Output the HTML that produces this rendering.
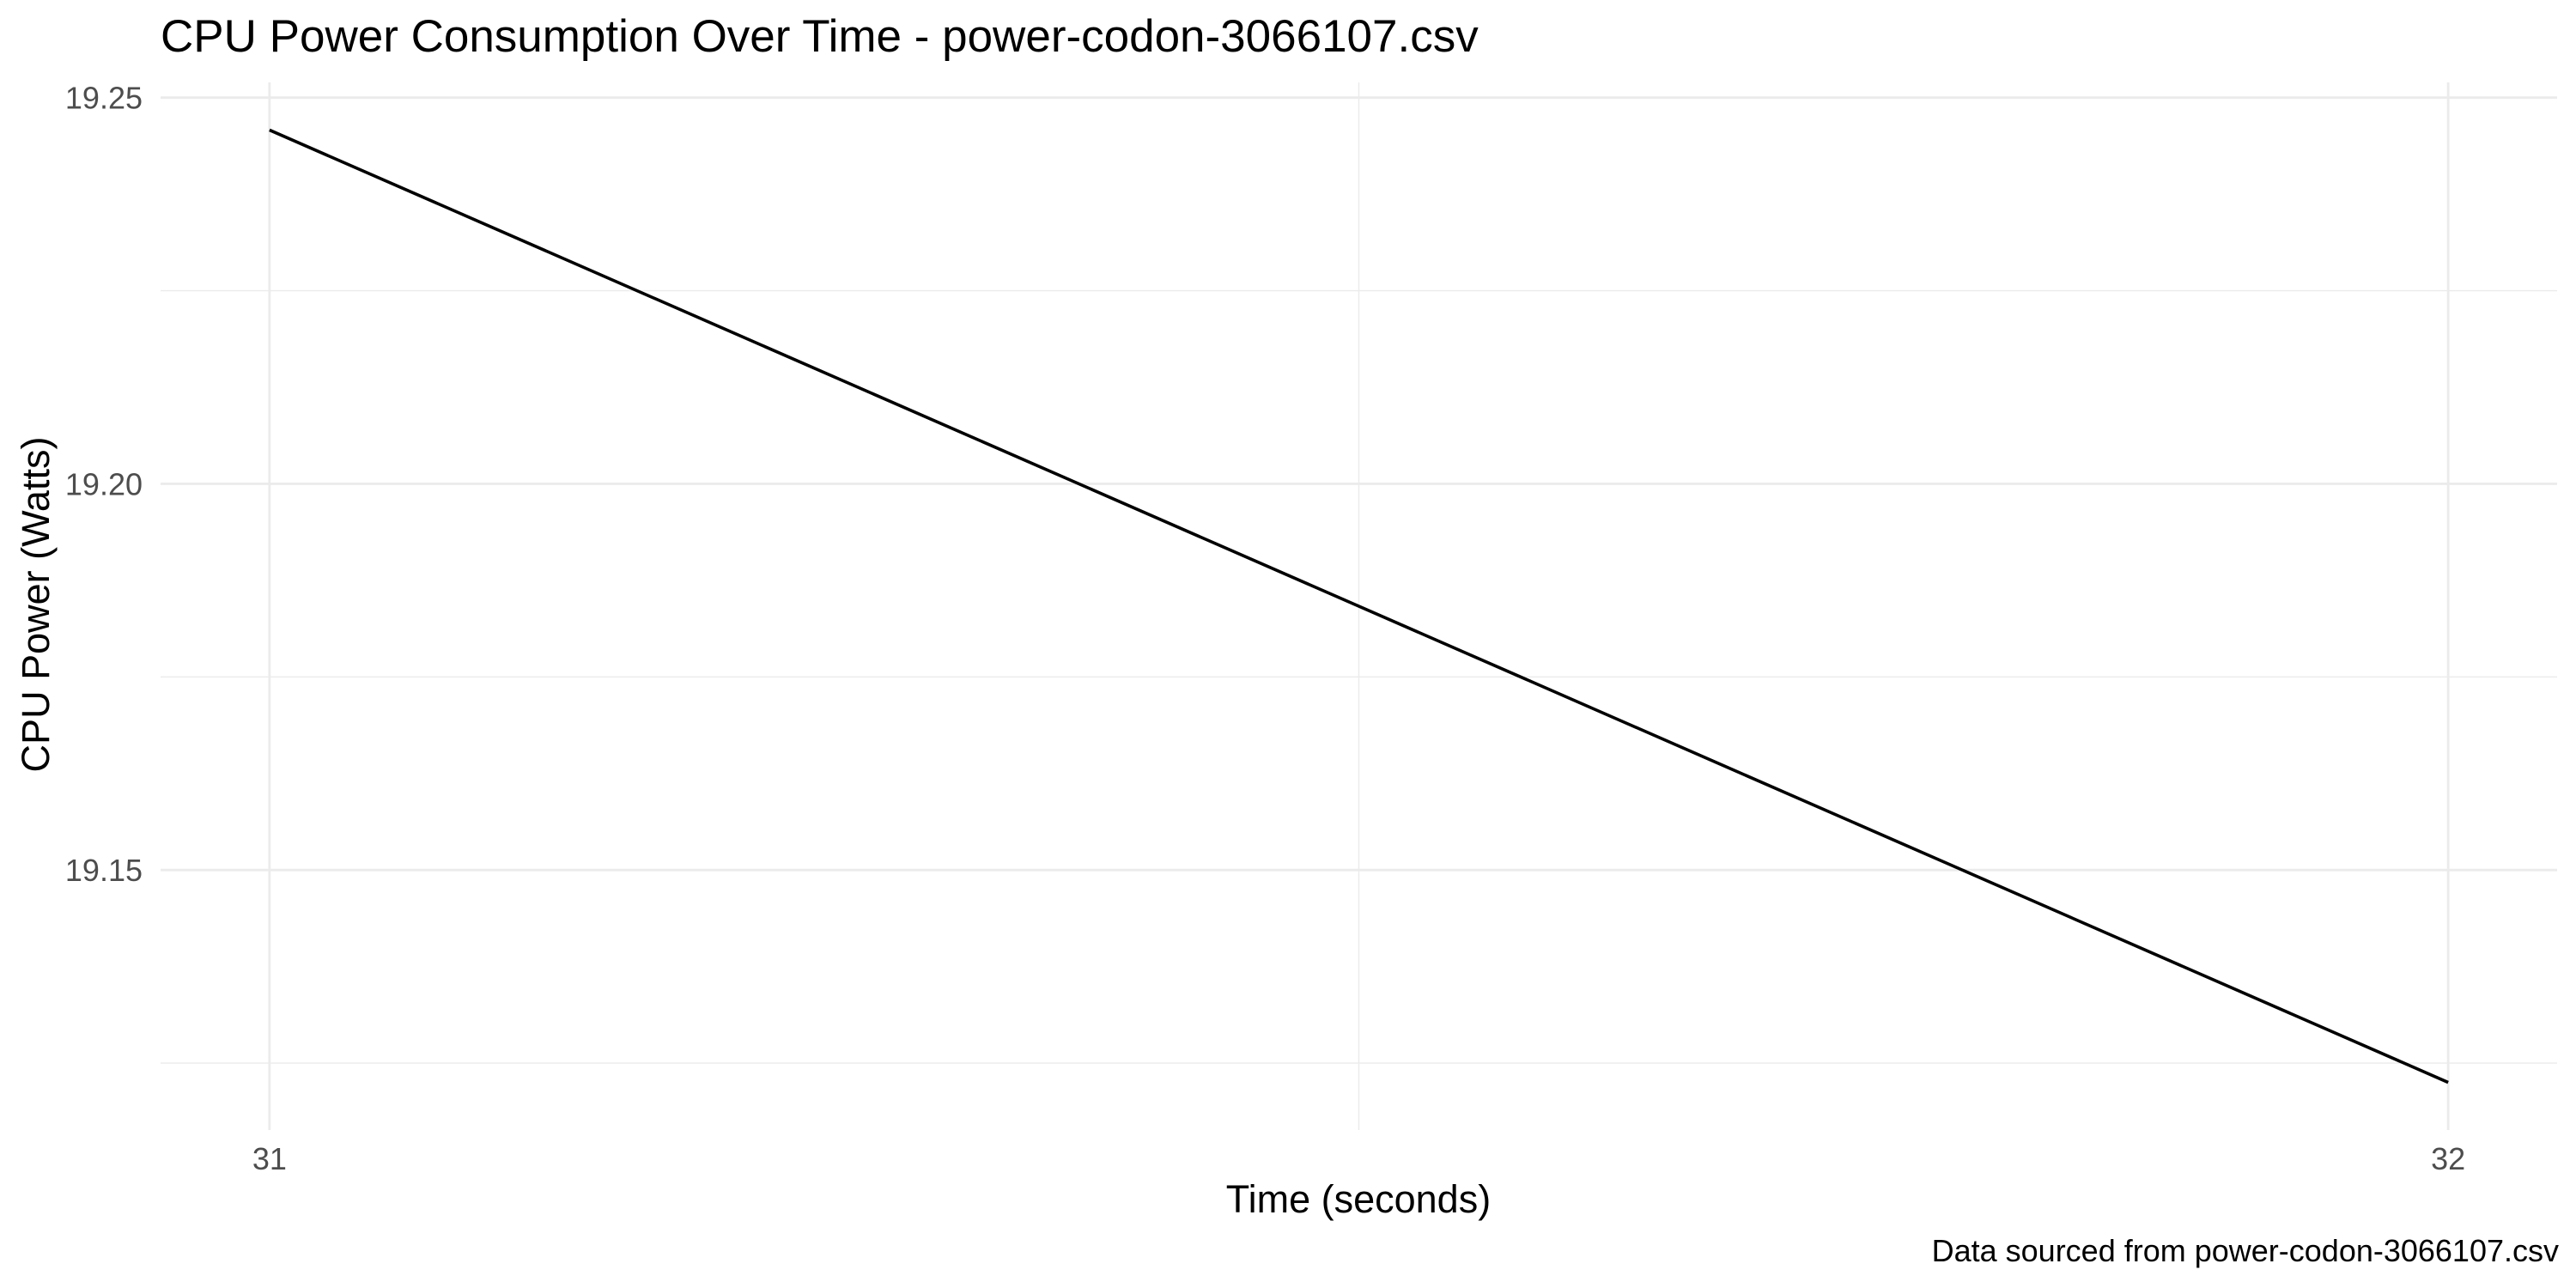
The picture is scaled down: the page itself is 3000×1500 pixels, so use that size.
<!DOCTYPE html>
<html><head><meta charset="utf-8"><style>
html,body{margin:0;padding:0;background:#fff;}
svg{display:block;font-family:"Liberation Sans",Arial,sans-serif;}
</style></head><body>
<svg id="chart" width="3000" height="1500" viewBox="0 0 3000 1500" xmlns="http://www.w3.org/2000/svg">
<rect width="3000" height="1500" fill="#fff"/>
<text x="187" y="60" font-size="53" fill="#000">CPU Power Consumption Over Time - power-codon-3066107.csv</text>
<g id="grid"></g>
<g id="yticks"></g>
<g id="xticks"></g>
<g id="series"></g>
<text x="1582" y="1412" font-size="45" text-anchor="middle" fill="#000">Time (seconds)</text>
<text transform="translate(57,704) rotate(-90)" font-size="45" text-anchor="middle" fill="#000">CPU Power (Watts)</text>
<text x="2980" y="1469" font-size="36" text-anchor="end" fill="#000">Data sourced from power-codon-3066107.csv</text>
</svg>
<script>
const times = [31, 32];
const power = [19.2458, 19.1225];
const yTicks = [19.15, 19.20, 19.25];
const yTickLabels = ["19.15", "19.20", "19.25"];
const yMinor = [19.125, 19.175, 19.225];
const xTicks = [31, 32];
const xTickLabels = ["31", "32"];
const xMinor = [31.5];

const L=187,R=2978,T=96,B=1316;
const xmin=Math.min(...times),xmax=Math.max(...times),xs=xmax-xmin;
const X0=xmin-0.05*xs,X1=xmax+0.05*xs;
const ymn=Math.min(...power),ymx=Math.max(...power),ys=ymx-ymn;
const Y0=ymn-0.05*ys,Y1=ymx+0.05*ys;
const sx=v=>L+(v-X0)/(X1-X0)*(R-L);
const sy=v=>B-(v-Y0)/(Y1-Y0)*(B-T);
const NS="http://www.w3.org/2000/svg";
function mk(tag,attrs,parent){const e=document.createElementNS(NS,tag);for(const k in attrs)e.setAttribute(k,attrs[k]);parent.appendChild(e);return e;}
const grid=document.getElementById('grid');
yMinor.forEach(v=>{if(v<Y0||v>Y1)return;const l=mk('line',{x1:L,x2:R,y1:sy(v),y2:sy(v),stroke:'#ebebeb','stroke-width':1.4},grid);

});
xMinor.forEach(v=>{const l=mk('line',{x1:sx(v),x2:sx(v),y1:T,y2:B,stroke:'#ebebeb','stroke-width':1.4},grid);

});
yTicks.forEach(v=>{const l=mk('line',{x1:L,x2:R,y1:sy(v),y2:sy(v),stroke:'#ebebeb','stroke-width':2.8},grid);

});
xTicks.forEach(v=>{const l=mk('line',{x1:sx(v),x2:sx(v),y1:T,y2:B,stroke:'#ebebeb','stroke-width':2.8},grid);

});
const yt=document.getElementById('yticks');
yTicks.forEach((v,i)=>{const t=mk('text',{x:166,y:sy(v)+13,'font-size':36,'text-anchor':'end',fill:'#4d4d4d'},yt);t.textContent=yTickLabels[i];

});
const xt=document.getElementById('xticks');
xTicks.forEach((v,i)=>{const t=mk('text',{x:sx(v),y:1362,'font-size':36,'text-anchor':'middle',fill:'#4d4d4d'},xt);t.textContent=xTickLabels[i];

});
const pts=times.map((t,i)=>sx(t)+','+sy(power[i])).join(' ');
const pl=mk('polyline',{points:pts,fill:'none',stroke:'#000','stroke-width':3.6},document.getElementById('series'));


</script>
</body></html>
